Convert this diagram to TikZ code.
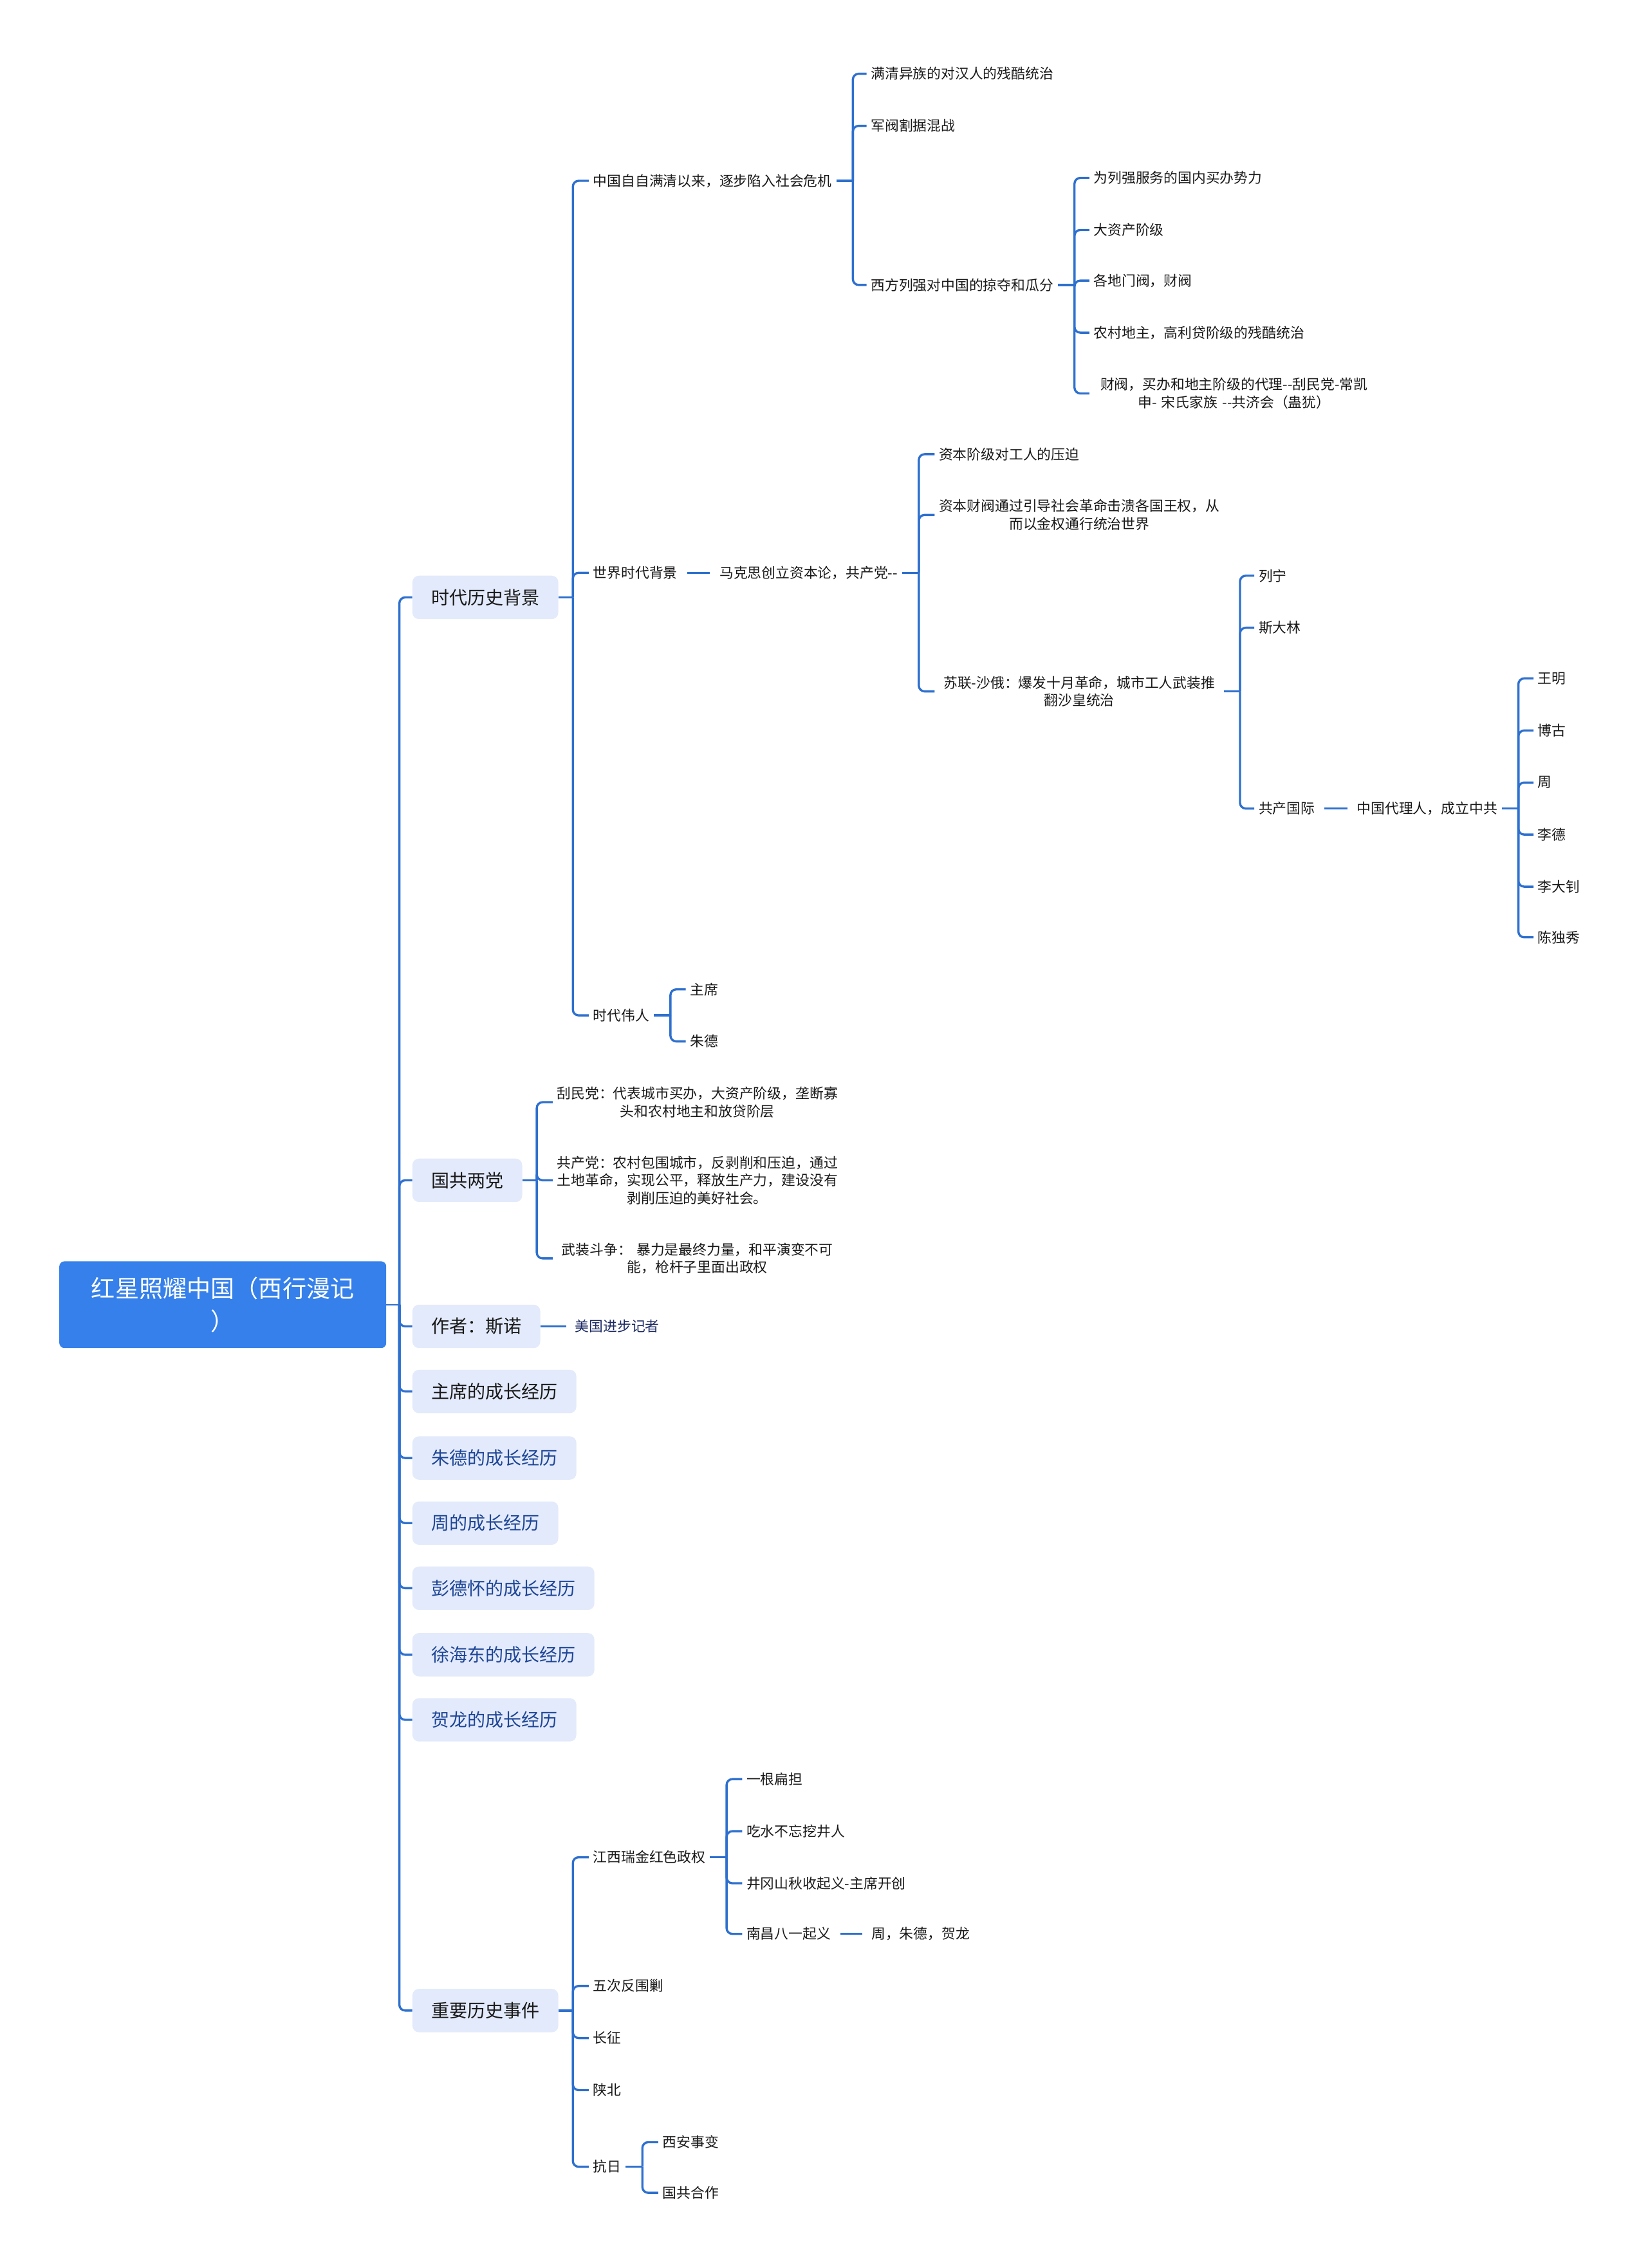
\documentclass[tikz,border=0pt]{standalone}
\usepackage{fontspec}
\setmainfont{Noto Sans CJK SC}
\usepackage{tikz}
\usetikzlibrary{positioning,calc}
\definecolor{rootblue}{RGB}{53,128,234}
\definecolor{topicfill}{RGB}{227,234,251}
\definecolor{linkblue}{RGB}{46,112,206}
\definecolor{topicblue}{RGB}{30,70,150}
\definecolor{navyblue}{RGB}{28,42,98}
\newcommand{\twodash}{-\kern0pt-}

\begin{document}
\begin{tikzpicture}[
    x=1mm, y=-1mm,
    every node/.style={align=center},
    root/.style={rectangle, rounded corners=3.6mm, fill=rootblue, text=white, font=\fontsize{47}{65}\selectfont, minimum width=226mm, minimum height=60mm, inner sep=0pt},
    topic/.style={rectangle, rounded corners=4.5mm, fill=topicfill, text=black!90, font=\fontsize{35.5}{40}\selectfont, inner xsep=13mm, inner ysep=0pt, minimum height=30mm, anchor=west},
    bluetopic/.style={topic, text=topicblue},
    leaf/.style={font=\fontsize{27.6}{35}\selectfont, text=black!90, inner xsep=3mm, inner ysep=1mm, anchor=west},
    wrap/.style={leaf, text width=194mm},
    link/.style={draw=linkblue, line width=1.5mm, rounded corners=4mm},
    sib/.style={link, shorten <=3.5mm, shorten >=3.5mm}
]
\useasboundingbox (0,0) rectangle (1139,1568);

% Central topic
\node[root] (book) at (154,902) {红星照耀中国（西行漫记\\）};

% Main topics
\node[topic] (bg) at (285,413) {时代历史背景};
\node[topic] (parties) at (285,816) {国共两党};
\node[topic] (author) at (285,917) {作者：斯诺};
\node[topic] (mao) at (285,962) {主席的成长经历};
\node[bluetopic] (zhu) at (285,1008) {朱德的成长经历};
\node[bluetopic] (zhoul) at (285,1053) {周的成长经历};
\node[bluetopic] (peng) at (285,1098) {彭德怀的成长经历};
\node[bluetopic] (xu) at (285,1144) {徐海东的成长经历};
\node[bluetopic] (he) at (285,1189) {贺龙的成长经历};
\node[topic] (events) at (285,1390) {重要历史事件};

% Background branch
\node[leaf] (crisis) at (407,125) {中国自自满清以来，逐步陷入社会危机};
\node[leaf] (world) at (407,396) {世界时代背景};
\node[leaf] (greats) at (407,702) {时代伟人};

\node[leaf] (manqing) at (599,51) {满清异族的对汉人的残酷统治};
\node[leaf] (junfa) at (599,87) {军阀割据混战};
\node[leaf] (lieqiang) at (599,197) {西方列强对中国的掠夺和瓜分};

\node[leaf] (maiban) at (753,123) {为列强服务的国内买办势力};
\node[leaf] (zichan) at (753,159) {大资产阶级};
\node[leaf] (menfa) at (753,194) {各地门阀，财阀};
\node[leaf] (dizhu) at (753,230) {农村地主，高利贷阶级的残酷统治};
\node[wrap] (daili) at (753,272) {财阀，买办和地主阶级的代理\twodash 刮民党-常凯\\申- 宋氏家族 \twodash 共济会（蛊犹）};

\node[leaf, right=23mm of world] (marx) {马克思创立资本论，共产党\twodash};
\node[leaf] (yapo) at (646,314) {资本阶级对工人的压迫};
\node[wrap] (caifa) at (646,356) {资本财阀通过引导社会革命击溃各国王权，从\\而以金权通行统治世界};
\node[wrap] (sulian) at (646,478) {苏联-沙俄：爆发十月革命，城市工人武装推\\翻沙皇统治};

\node[leaf] (liening) at (867,398) {列宁};
\node[leaf] (sidalin) at (867,434) {斯大林};
\node[leaf] (comintern) at (867,559) {共产国际};
\node[leaf, right=23mm of comintern] (agent) {中国代理人，成立中共};

\node[leaf] (wangming) at (1060,469) {王明};
\node[leaf] (bogu) at (1060,505) {博古};
\node[leaf] (zhou) at (1060,541) {周};
\node[leaf] (lide) at (1060,577) {李德};
\node[leaf] (lidazhao) at (1060,613) {李大钊};
\node[leaf] (chenduxiu) at (1060,648) {陈独秀};

\node[leaf] (zhuxi) at (474,684) {主席};
\node[leaf] (zhude) at (474,720) {朱德};

% Parties branch
\node[wrap] (gmd) at (382,762) {刮民党：代表城市买办，大资产阶级，垄断寡\\头和农村地主和放贷阶层};
\node[wrap] (gcd) at (382,816) {共产党：农村包围城市，反剥削和压迫，通过\\土地革命，实现公平，释放生产力，建设没有\\剥削压迫的美好社会。};
\node[wrap] (armed) at (382,870) {武装斗争： 暴力是最终力量，和平演变不可\\能，枪杆子里面出政权};

% Author
\node[leaf, text=navyblue, right=21mm of author] (reporter) {美国进步记者};

% Events branch
\node[leaf] (jiangxi) at (407,1284) {江西瑞金红色政权};
\node[leaf] (weijiao) at (407,1373) {五次反围剿};
\node[leaf] (changzheng) at (407,1409) {长征};
\node[leaf] (shanbei) at (407,1445) {陕北};
\node[leaf] (kangri) at (407,1498) {抗日};

\node[leaf] (biandan) at (513,1230) {一根扁担};
\node[leaf] (chishui) at (513,1266) {吃水不忘挖井人};
\node[leaf] (jinggang) at (513,1302) {井冈山秋收起义-主席开创};
\node[leaf] (nanchang) at (513,1337) {南昌八一起义};
\node[leaf, right=22mm of nanchang] (leaders) {周，朱德，贺龙};

\node[leaf] (xian) at (455,1481) {西安事变};
\node[leaf] (hezuo) at (455,1516) {国共合作};

% Connections
\draw[link, line width=1mm] (book.east) -- ++(9,0) coordinate (trunk);
\foreach \n in {bg,parties,author,mao,zhu,zhoul,peng,xu,he,events}
    \draw[link] (trunk) |- (\n.west);

\draw[link] (bg.east) -- ++(10,0) coordinate (bg-bus);
\foreach \n in {crisis,world,greats}
    \draw[link] (bg-bus) |- (\n.west);

\draw[link] (crisis.east) -- ++(11.5,0) coordinate (crisis-bus);
\foreach \n in {manqing,junfa,lieqiang}
    \draw[link] (crisis-bus) |- (\n.west);

\draw[link] (lieqiang.east) -- ++(11.5,0) coordinate (lieqiang-bus);
\foreach \n in {maiban,zichan,menfa,dizhu,daili}
    \draw[link] (lieqiang-bus) |- (\n.west);

\draw[sib] (world) -- (marx);
\draw[link] (marx.east) -- ++(11.5,0) coordinate (marx-bus);
\foreach \n in {yapo,caifa,sulian}
    \draw[link] (marx-bus) |- (\n.west);

\draw[link] (sulian.east) -- ++(11,0) coordinate (sulian-bus);
\foreach \n in {liening,sidalin,comintern}
    \draw[link] (sulian-bus) |- (\n.west);

\draw[sib] (comintern) -- (agent);
\draw[link] (agent.east) -- ++(11.5,0) coordinate (agent-bus);
\foreach \n in {wangming,bogu,zhou,lide,lidazhao,chenduxiu}
    \draw[link] (agent-bus) |- (\n.west);

\draw[link] (greats.east) -- ++(11.5,0) coordinate (greats-bus);
\foreach \n in {zhuxi,zhude}
    \draw[link] (greats-bus) |- (\n.west);

\draw[link] (parties.east) -- ++(10,0) coordinate (parties-bus);
\foreach \n in {gmd,gcd,armed}
    \draw[link] (parties-bus) |- (\n.west);

\draw[link, shorten >=3mm] (author) -- (reporter);

\draw[link] (events.east) -- ++(10,0) coordinate (events-bus);
\foreach \n in {jiangxi,weijiao,changzheng,shanbei,kangri}
    \draw[link] (events-bus) |- (\n.west);

\draw[link] (jiangxi.east) -- ++(11.5,0) coordinate (jiangxi-bus);
\foreach \n in {biandan,chishui,jinggang,nanchang}
    \draw[link] (jiangxi-bus) |- (\n.west);

\draw[sib] (nanchang) -- (leaders);

\draw[link] (kangri.east) -- ++(11.5,0) coordinate (kangri-bus);
\foreach \n in {xian,hezuo}
    \draw[link] (kangri-bus) |- (\n.west);

\end{tikzpicture}
\end{document}
